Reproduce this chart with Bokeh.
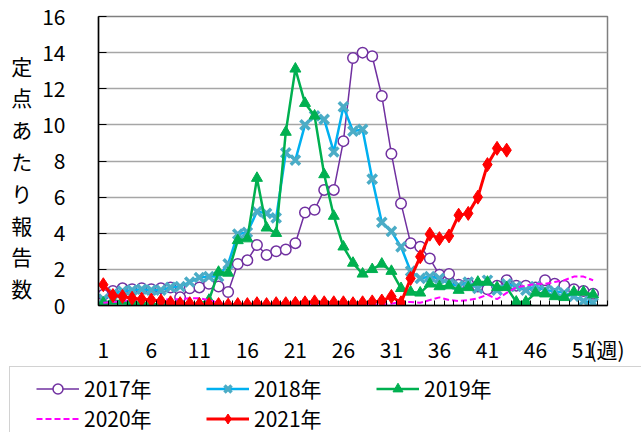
from bokeh.plotting import figure
from bokeh.models import FixedTicker, Legend, LegendItem, Range1d
from bokeh.embed import file_html
from bokeh.resources import INLINE

FONT = "Noto Sans CJK JP"

weeks = list(range(1, 53))
weeks_2021 = list(range(1, 44))
tick_weeks = [1, 6, 11, 16, 21, 26, 31, 36, 41, 46, 51]
y_ticks = [0, 2, 4, 6, 8, 10, 12, 14, 16]
series_names = ["2017年", "2018年", "2019年", "2020年", "2021年"]
y_title = "定点あたり報告数"
x_unit = "(週)"

y2017 = [0.6, 0.8, 0.95, 0.9, 0.95, 0.9, 0.95, 1.0, 0.45, 0.95,
         1.0, 1.2, 1.05, 0.75, 2.3, 2.5, 3.35, 2.8, 3.0, 3.1,
         3.45, 5.15, 5.3, 6.4, 6.4, 9.1, 13.7, 14.0, 13.8, 11.6,
         8.4, 5.65, 3.45, 3.25, 2.6, 1.7, 1.75, 1.15, 1.2, 1.05,
         0.9, 1.1, 1.4, 1.1, 1.1, 1.0, 1.4, 1.2, 1.1, 0.9,
         0.8, 0.65]
y2018 = [0.35, 0.65, 0.8, 0.85, 0.9, 0.85, 0.85, 1.0, 1.05, 1.3,
         1.55, 1.6, 1.6, 2.3, 3.95, 4.05, 5.2, 5.1, 4.85, 8.45,
         8.05, 10.0, 10.5, 10.3, 8.5, 11.0, 9.65, 9.75, 7.0, 4.6,
         4.1, 3.25, 1.9, 1.5, 1.6, 1.5, 1.2, 1.1, 1.3, 0.95,
         1.4, 0.85, 1.2, 1.05, 0.85, 1.05, 0.85, 0.8, 0.7, 0.5,
         0.25, 0.15]
y2019 = [0.15, 0.25, 0.25, 0.2, 0.15, 0.1, 0.05, 0.05, 0.05, 0.05,
         0.1, 0.3, 1.85, 1.8, 3.6, 3.7, 7.05, 4.3, 4.0, 9.6,
         13.1, 11.2, 10.5, 7.25, 4.95, 3.25, 2.35, 1.75, 2.0, 2.3,
         1.9, 0.95, 0.75, 0.7, 1.2, 1.05, 1.1, 0.85, 1.0, 1.3,
         1.3, 1.0, 1.0, 0.2, 0.2, 0.7, 0.65, 0.5, 0.45, 0.75,
         0.75, 0.6]
y2020 = [0.15, 0.2, 0.25, 0.3, 0.3, 0.3, 0.3, 0.35, 0.35, 0.4,
         0.4, 0.3, 0.15, 0.05, 0.05, 0.05, 0.05, 0.05, 0.05, 0.05,
         0.05, 0.05, 0.05, 0.05, 0.05, 0.05, 0.05, 0.05, 0.05, 0.05,
         0.1, 0.2, 0.2, 0.15, 0.3, 0.45, 0.3, 0.25, 0.3, 0.4,
         0.6, 0.35, 0.7, 1.0, 1.1, 1.2, 1.2, 1.3, 1.4, 1.6,
         1.6, 1.4]
y2021 = [1.15, 0.55, 0.5, 0.4, 0.35, 0.3, 0.25, 0.15, 0.1, 0.1,
         0.05, 0.05, 0.05, 0.02, 0.05, 0.05, 0.1, 0.05, 0.1, 0.1,
         0.12, 0.15, 0.2, 0.15, 0.15, 0.15, 0.1, 0.15, 0.2, 0.25,
         0.5, 0.15, 1.5, 2.7, 3.95, 3.7, 3.85, 5.0, 5.1, 6.0,
         7.8, 8.7, 8.6]

STY = {
    "2017": dict(line=dict(line_color="#7030A0", line_width=1.5),
                 mark=dict(marker="circle", size=10.5, line_color="#7030A0",
                           fill_color="white", line_width=1.5)),
    "2018": dict(line=dict(line_color="#00B0F0", line_width=2.5),
                 mark=dict(marker="x", size=13, line_color="#4BACC6", line_width=3.5)),
    "2019": dict(line=dict(line_color="#00B050", line_width=2.5),
                 mark=dict(marker="triangle", size=11, line_color="#00B050",
                           fill_color="#00B050")),
    "2020": dict(line=dict(line_color="#FF00FF", line_width=2, line_dash="6 3"),
                 mark=None),
    "2021": dict(line=dict(line_color="#FF0000", line_width=3),
                 mark=dict(marker="diamond", size=14, line_color="#FF0000",
                           fill_color="#FF0000")),
}

X_END = 53.5
p = figure(width=641, height=366, output_backend="svg", toolbar_location=None,
           x_range=Range1d(0.5, X_END), y_range=Range1d(0, 16),
           min_border_left=98, min_border_right=34, min_border_top=16,
           min_border_bottom=50)
p.outline_line_color = "#7F7F7F"
p.outline_line_width = 1.5

unit_pos = X_END - 0.05
p.xaxis.ticker = FixedTicker(ticks=tick_weeks + [unit_pos],
                             minor_ticks=[k + 0.5 for k in range(0, 54)])
p.xaxis.major_label_overrides = {unit_pos: x_unit}
p.xaxis.major_tick_line_color = None
p.xaxis.minor_tick_line_color = "black"
p.xaxis.minor_tick_in = 5
p.xaxis.minor_tick_out = 0
p.xaxis.axis_line_color = "black"
p.xaxis.axis_line_width = 1.5
p.xaxis.major_label_standoff = 22
p.xaxis.major_label_text_font = FONT
p.xaxis.major_label_text_font_size = "21px"
p.xaxis.major_label_text_color = "black"

p.yaxis.ticker = FixedTicker(ticks=y_ticks)
p.yaxis.minor_tick_line_color = None
p.yaxis.major_tick_in = 8
p.yaxis.major_tick_out = 0
p.yaxis.major_tick_line_color = "black"
p.yaxis.axis_line_color = "black"
p.yaxis.axis_line_width = 1.5
p.yaxis.major_label_standoff = 33
p.yaxis.major_label_text_font = FONT
p.yaxis.major_label_text_font_size = "21px"
p.yaxis.major_label_text_color = "black"
p.yaxis.axis_label = "\n" + "\n".join(y_title)
p.yaxis.axis_label_orientation = "horizontal"
p.yaxis.axis_label_standoff = 7
p.yaxis.axis_label_text_font = FONT
p.yaxis.axis_label_text_font_size = "21px"
p.yaxis.axis_label_text_font_style = "normal"
p.yaxis.axis_label_text_color = "black"
p.yaxis.axis_label_text_line_height = 1.06

p.xgrid.grid_line_color = None
p.ygrid.ticker = FixedTicker(ticks=y_ticks)
p.ygrid.grid_line_color = "#A6A6A6"
p.ygrid.grid_line_width = 1.5

series = [("2017", weeks, y2017), ("2018", weeks, y2018), ("2019", weeks, y2019),
          ("2020", weeks, y2020), ("2021", weeks_2021, y2021)]
for key, xs, ys in series:
    p.line(xs, ys, **STY[key]["line"])
    if STY[key]["mark"] is not None:
        p.scatter(xs, ys, **STY[key]["mark"])

# legend strip below the chart (separate root, its frame fills it)
q = figure(width=641, height=66, output_backend="svg", toolbar_location=None,
           x_range=Range1d(0, 1), y_range=Range1d(0, 1),
           min_border=0, min_border_left=0, min_border_right=0,
           min_border_top=0, min_border_bottom=0)
q.axis.visible = False
q.grid.visible = False
q.outline_line_color = None

OFF = [-10]  # legend proxies sit outside the visible range
dummy = q.line(x=OFF, y=OFF, line_alpha=0)
box = Legend(items=[LegendItem(label=" ", renderers=[dummy])],
             location=(9, -16), glyph_width=700, glyph_height=80,
             label_height=80, label_width=0, label_standoff=0, padding=0,
             margin=0, border_line_color="#A6A6A6", border_line_width=1.5,
             background_fill_color="white", background_fill_alpha=1,
             label_text_font_size="1px")
q.add_layout(box, "center")

items = []
for (key, xs, ys), name in zip(series, series_names):
    rs = [q.line(x=OFF, y=OFF, **STY[key]["line"])]
    if STY[key]["mark"] is not None:
        rs.append(q.scatter(x=OFF, y=OFF, **STY[key]["mark"]))
    items.append(LegendItem(label=name, renderers=rs))
leg = Legend(items=items, location=(36, -1), orientation="horizontal",
             ncols=3, glyph_width=43, glyph_height=25, label_height=25,
             label_width=122, label_standoff=5, spacing=0, padding=0, margin=0,
             border_line_color=None, background_fill_alpha=0,
             label_text_font=FONT, label_text_font_size="21px",
             label_text_color="black")
q.add_layout(leg, "center")

open("out.html", "w").write(file_html([p, q], INLINE))
